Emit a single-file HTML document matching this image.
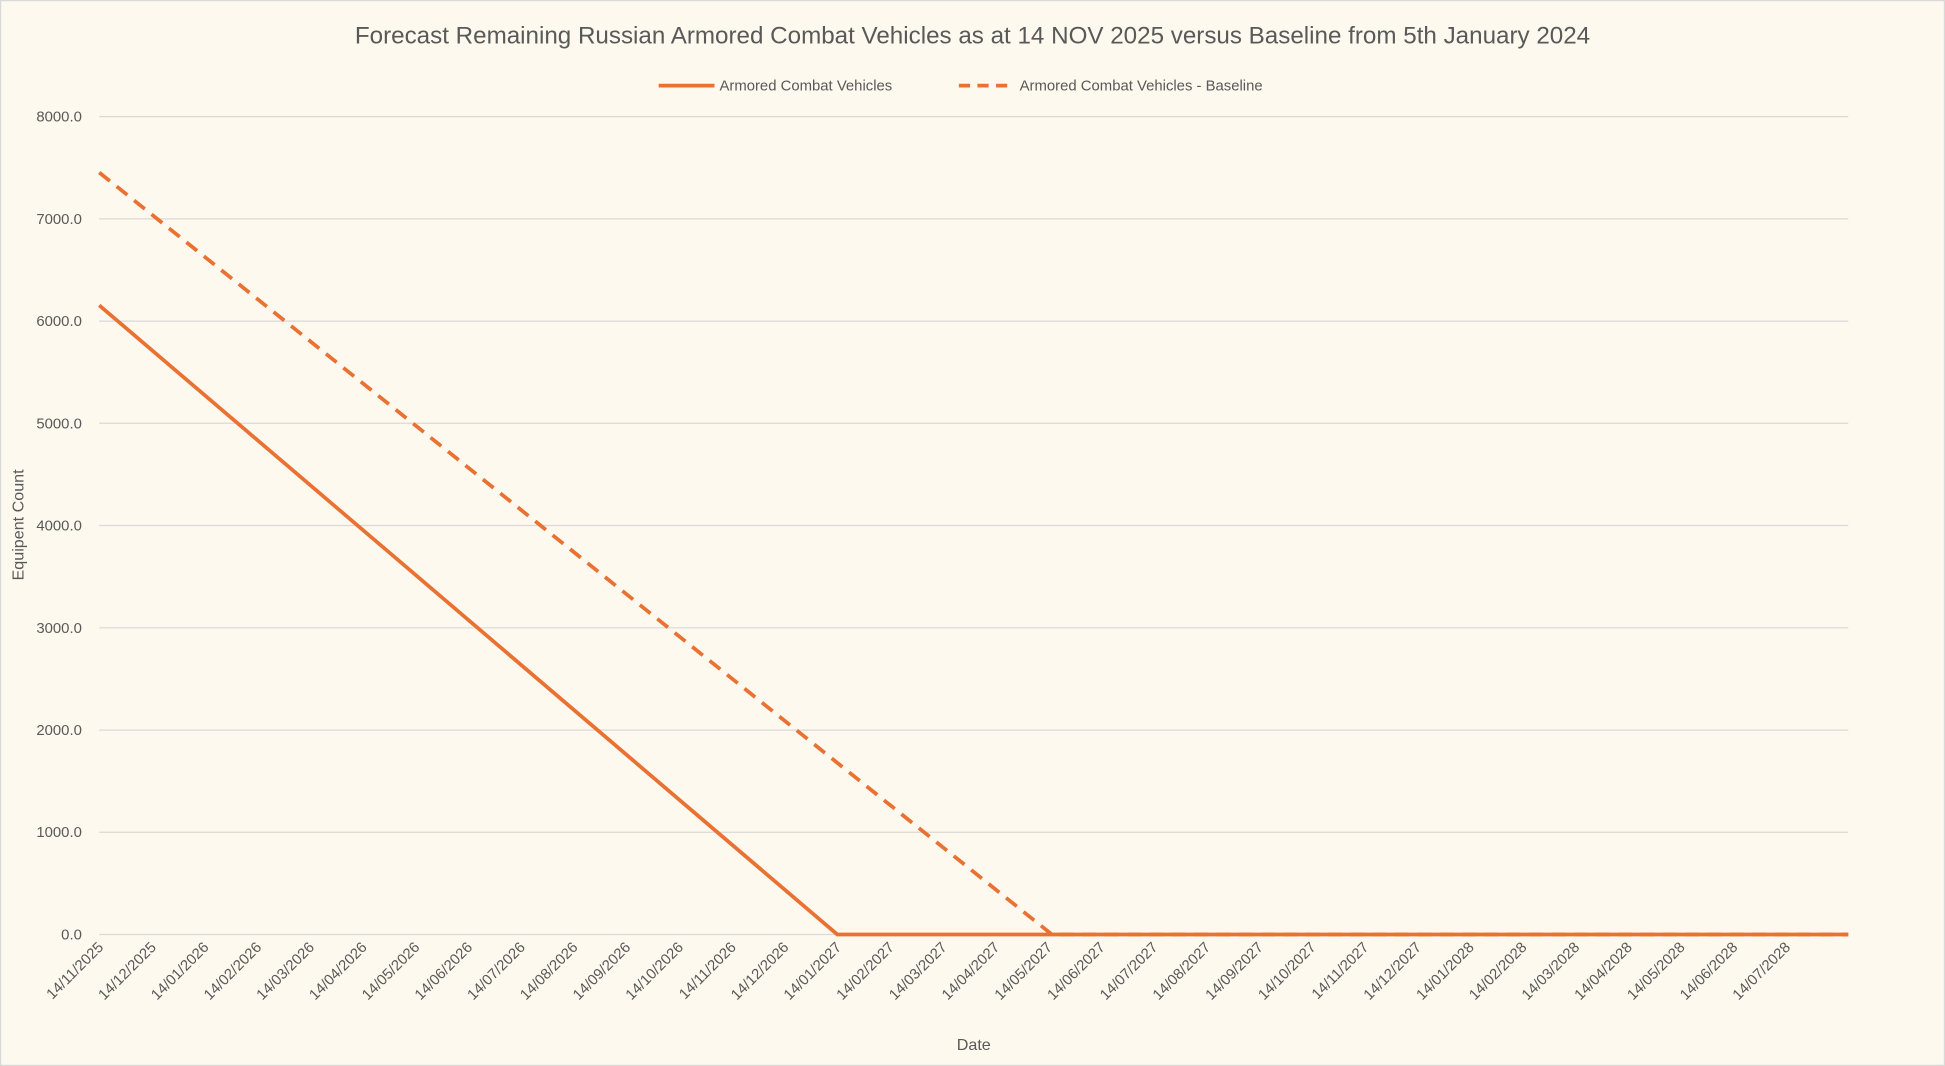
<!DOCTYPE html>
<html><head><meta charset="utf-8"><style>
html,body{margin:0;padding:0;background:#fef9ee;}
svg{display:block;font-family:"Liberation Sans",sans-serif;}
</style></head><body>
<svg width="1945" height="1066" viewBox="0 0 1568 859" preserveAspectRatio="none" xmlns="http://www.w3.org/2000/svg">
<rect x="0.5" y="0.5" width="1567" height="858" fill="#fef9ee" stroke="#d9d9d9"/>
<text x="784" y="35" text-anchor="middle" font-size="19.5" fill="#595959">Forecast Remaining Russian Armored Combat Vehicles as at 14 NOV 2025 versus Baseline from 5th January 2024</text>
<line x1="531" y1="69" x2="576" y2="69" stroke="#e97132" stroke-width="3"/>
<text x="580" y="73" font-size="12" fill="#595959">Armored Combat Vehicles</text>
<line x1="773" y1="69" x2="818" y2="69" stroke="#e97132" stroke-width="3" stroke-dasharray="9,6"/>
<text x="822" y="73" font-size="12" fill="#595959">Armored Combat Vehicles - Baseline</text>
<g stroke="#d9d9d9" stroke-width="1">
<line x1="80" y1="94" x2="1490" y2="94"/><line x1="80" y1="176.4" x2="1490" y2="176.4"/>
<line x1="80" y1="258.8" x2="1490" y2="258.8"/><line x1="80" y1="341.1" x2="1490" y2="341.1"/>
<line x1="80" y1="423.5" x2="1490" y2="423.5"/><line x1="80" y1="505.9" x2="1490" y2="505.9"/>
<line x1="80" y1="588.3" x2="1490" y2="588.3"/><line x1="80" y1="670.6" x2="1490" y2="670.6"/>
<line x1="80" y1="753" x2="1490" y2="753"/>
</g>
<g font-size="12" fill="#595959" text-anchor="end">
<text x="66" y="98">8000.0</text><text x="66" y="180.4">7000.0</text><text x="66" y="262.8">6000.0</text>
<text x="66" y="345.1">5000.0</text><text x="66" y="427.5">4000.0</text><text x="66" y="509.9">3000.0</text>
<text x="66" y="592.3">2000.0</text><text x="66" y="674.6">1000.0</text><text x="66" y="757">0.0</text>
</g>
<polyline points="80,139 848,753 1490,753" fill="none" stroke="#e97132" stroke-width="3" stroke-dasharray="11,7"/>
<polyline points="80,246 675,753 1490,753" fill="none" stroke="#e97132" stroke-width="3"/>
<g font-size="12" fill="#595959" text-anchor="end">
<text transform="translate(84,764) rotate(-45)">14/11/2025</text>
<text transform="translate(126.5,764) rotate(-45)">14/12/2025</text>
<text transform="translate(169,764) rotate(-45)">14/01/2026</text>
<text transform="translate(211.5,764) rotate(-45)">14/02/2026</text>
<text transform="translate(254,764) rotate(-45)">14/03/2026</text>
<text transform="translate(296.5,764) rotate(-45)">14/04/2026</text>
<text transform="translate(339,764) rotate(-45)">14/05/2026</text>
<text transform="translate(381.5,764) rotate(-45)">14/06/2026</text>
<text transform="translate(424,764) rotate(-45)">14/07/2026</text>
<text transform="translate(466.5,764) rotate(-45)">14/08/2026</text>
<text transform="translate(509,764) rotate(-45)">14/09/2026</text>
<text transform="translate(551.5,764) rotate(-45)">14/10/2026</text>
<text transform="translate(594,764) rotate(-45)">14/11/2026</text>
<text transform="translate(636.5,764) rotate(-45)">14/12/2026</text>
<text transform="translate(679,764) rotate(-45)">14/01/2027</text>
<text transform="translate(721.5,764) rotate(-45)">14/02/2027</text>
<text transform="translate(764,764) rotate(-45)">14/03/2027</text>
<text transform="translate(806.5,764) rotate(-45)">14/04/2027</text>
<text transform="translate(849,764) rotate(-45)">14/05/2027</text>
<text transform="translate(891.5,764) rotate(-45)">14/06/2027</text>
<text transform="translate(934,764) rotate(-45)">14/07/2027</text>
<text transform="translate(976.5,764) rotate(-45)">14/08/2027</text>
<text transform="translate(1019,764) rotate(-45)">14/09/2027</text>
<text transform="translate(1061.5,764) rotate(-45)">14/10/2027</text>
<text transform="translate(1104,764) rotate(-45)">14/11/2027</text>
<text transform="translate(1146.5,764) rotate(-45)">14/12/2027</text>
<text transform="translate(1189,764) rotate(-45)">14/01/2028</text>
<text transform="translate(1231.5,764) rotate(-45)">14/02/2028</text>
<text transform="translate(1274,764) rotate(-45)">14/03/2028</text>
<text transform="translate(1316.5,764) rotate(-45)">14/04/2028</text>
<text transform="translate(1359,764) rotate(-45)">14/05/2028</text>
<text transform="translate(1401.5,764) rotate(-45)">14/06/2028</text>
<text transform="translate(1444,764) rotate(-45)">14/07/2028</text>
</g>
<text x="785" y="846" text-anchor="middle" font-size="13" fill="#595959">Date</text>
<text transform="translate(19,423) rotate(-90)" text-anchor="middle" font-size="13" fill="#595959">Equipent Count</text>
</svg>
</body></html>
